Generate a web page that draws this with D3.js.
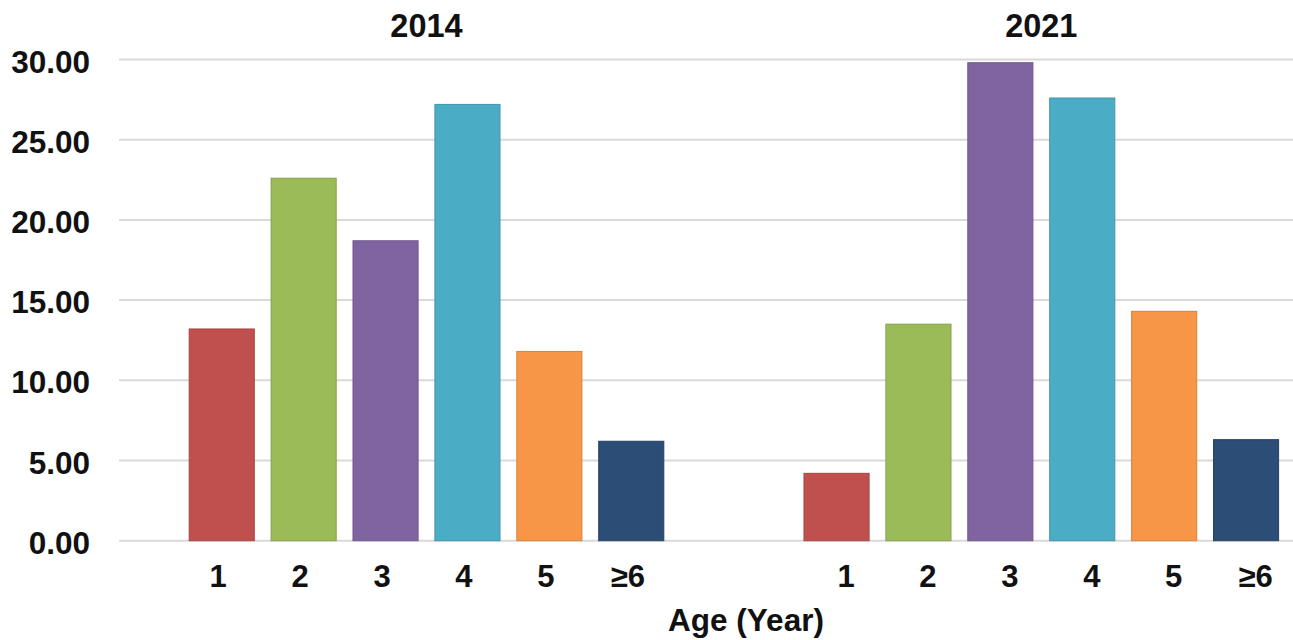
<!DOCTYPE html>
<html>
<head>
<meta charset="utf-8">
<script src="https://cdn.jsdelivr.net/npm/d3@7"></script>
<style>
  html, body { margin: 0; padding: 0; background: #fff; }
  svg { display: block; }
  text { font-family: Arial, "Liberation Sans", sans-serif; font-weight: bold; fill: #111; }
</style>
</head>
<body>
<svg id="chart" width="1293" height="640"></svg>
<script>
// Age groups shared by both panels
const ages = ["1", "2", "3", "4", "5", "≥6"];
// Panel titles
const years = ["2014", "2021"];
// Share of cases per age group (%)
const values2014 = [13.2, 22.6, 18.7, 27.2, 11.8, 6.2];
const values2021 = [4.2, 13.5, 29.8, 27.6, 14.3, 6.3];
// Y axis tick values
const yTicks = [0, 5, 10, 15, 20, 25, 30];
// Bar fill colours, one per age group
const barColors = ["#C0504D", "#9BBB59", "#8064A2", "#4BACC6", "#F79646", "#2C4D75"];

const svg = d3.select("#chart");
const W = 1293;
const FONT = "Arial, 'Liberation Sans', sans-serif";

const y = d3.scaleLinear().domain([0, 30]).range([540.7, 59.5]);

// Horizontal gridlines
svg.append("g")
  .selectAll("line")
  .data(yTicks)
  .join("line")
  .attr("x1", 119)
  .attr("x2", W)
  .attr("y1", d => y(d))
  .attr("y2", d => y(d))
  .attr("stroke", "#d9d9d9")
  .attr("stroke-width", 2);

// Y axis labels
const yAxis = d3.axisLeft(y).tickValues(yTicks).tickFormat(d3.format(".2f")).tickSize(0).tickPadding(0);
const gy = svg.append("g").attr("transform", "translate(90,0)").call(yAxis);
gy.select(".domain").remove();
gy.selectAll("text")
  .attr("font-size", 31.5)
  .attr("font-family", FONT)
  .attr("font-weight", "bold")
  .attr("fill", "#111")
  .attr("dy", "0.4em");

const panels = [
  { title: years[0], values: values2014, range: [181, 672], labelShift: -3.5 },
  { title: years[1], values: values2021, range: [795.8, 1286.8], labelShift: 9.5 }
];

panels.forEach(p => {
  const x = d3.scaleBand().domain(ages).range(p.range).paddingInner(0.205).paddingOuter(0.1);

  const g = svg.append("g");

  g.selectAll("rect")
    .data(p.values)
    .join("rect")
    .attr("x", (d, i) => x(ages[i]))
    .attr("width", x.bandwidth())
    .attr("y", d => y(d))
    .attr("height", d => y(0) - y(d))
    .attr("fill", (d, i) => barColors[i])
    .attr("stroke", (d, i) => d3.color(barColors[i]).darker(0.4))
    .attr("stroke-width", 1);

  // Category labels
  const xAxis = d3.axisBottom(x).tickSize(0).tickPadding(0);
  const gx = g.append("g").attr("transform", `translate(${p.labelShift},586.5)`).call(xAxis);
  gx.select(".domain").remove();
  gx.selectAll("text")
    .attr("font-size", 31)
    .attr("font-family", FONT)
    .attr("font-weight", "bold")
    .attr("fill", "#111")
    .attr("dy", 0);

  // Panel title
  g.append("text")
    .attr("x", (x(ages[0]) + x(ages[5]) + x.bandwidth()) / 2)
    .attr("y", 36.5)
    .attr("text-anchor", "middle")
    .attr("font-size", 32.5)
    .text(p.title);
});

// X axis title
svg.append("text")
  .attr("x", 746)
  .attr("y", 631)
  .attr("text-anchor", "middle")
  .attr("font-size", 31.5)
  .text("Age (Year)");
</script>
</body>
</html>
